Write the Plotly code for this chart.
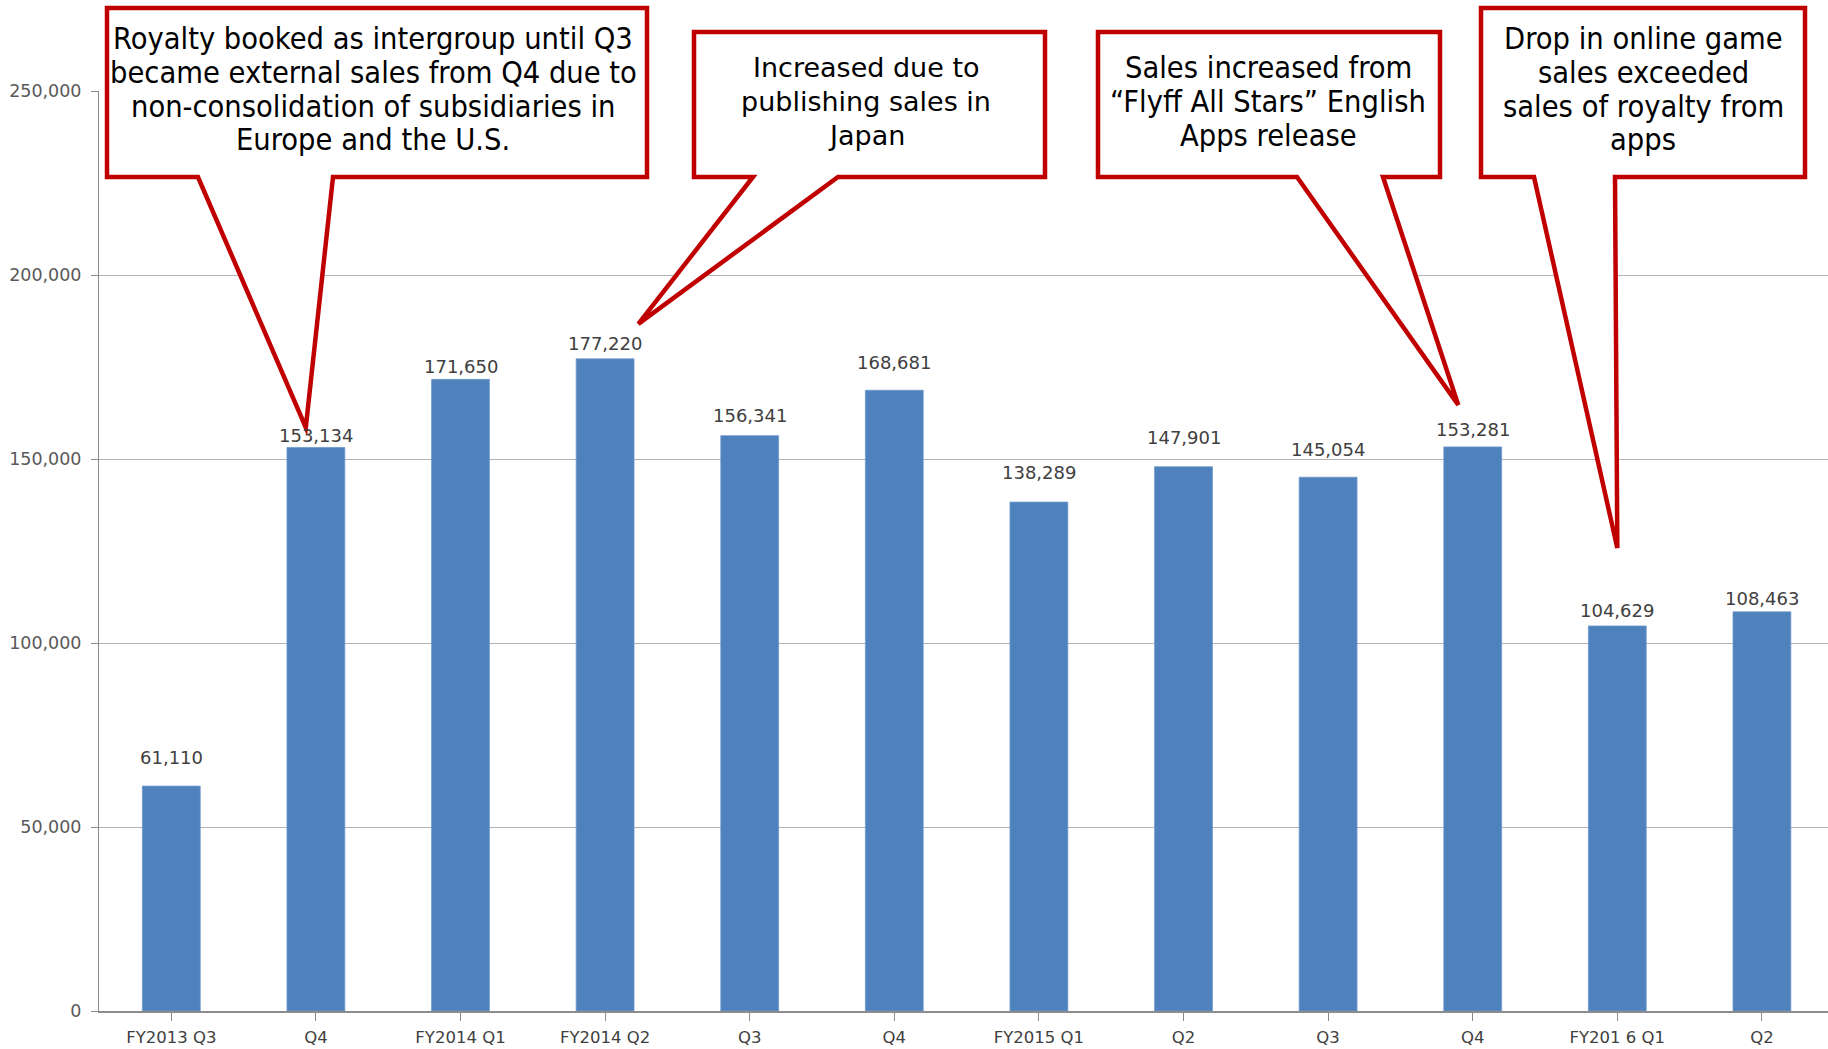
import plotly.graph_objects as go

# Quarterly sales
quarters = ["FY2013 Q3", "Q4", "FY2014 Q1", "FY2014 Q2", "Q3", "Q4",
            "FY2015 Q1", "Q2", "Q3", "Q4", "FY201 6 Q1", "Q2"]
sales = [61110, 153134, 171650, 177220, 156341, 168681,
         138289, 147901, 145054, 153281, 104629, 108463]
y_ticks = [0, 50000, 100000, 150000, 200000, 250000]

# Callout notes: text lines, the bar each one points at
note_lines = [
    ["Royalty booked as intergroup until Q3",
     "became external sales from Q4 due to",
     "non-consolidation of subsidiaries in",
     "Europe and the U.S."],
    ["Increased due to", "publishing sales in", "Japan"],
    ["Sales increased from", "\u201cFlyff All Stars\u201d English", "Apps release"],
    ["Drop in online game", "sales exceeded", "sales of royalty from", "apps"],
]
note_bar = [1, 3, 9, 10]

# ---- layout geometry (pixels) ----
FIG_W, FIG_H = 1828, 1049
L, T, R, B = 99, 91, 0, 38
W = FIG_W - L - R
H = FIG_H - T - B
X0, X1 = -0.5, 11.457
Y0, Y1 = 0, 250000

# distance of each value label's centre above its bar top (px)
label_lift = [29, 12, 13, 15, 20, 28, 30, 29, 28, 17, 15, 13]


def px_of_x(v):
    return L + (v - X0) / (X1 - X0) * W


def px_of_y(v):
    return T + H - (v - Y0) / (Y1 - Y0) * H


def paper_x(px):
    return (px - L) / W


def paper_y(py):
    return (T + H - py) / H


# box: left, top, right, bottom, tail base left, tail base right
boxes = [
    (107, 8, 647, 177, 198, 333),
    (694, 32, 1045, 177, 753, 838),
    (1098, 32, 1440, 177, 1297, 1383),
    (1481, 8, 1805, 177, 1534, 1615),
]
# tip offset from the bar: (category units, pixels above bar top)
tip_offset = [(-0.07, 20), (0.23, 35), (-0.10, 42), (0.0, 78)]
text_cx = [373, 866, 1268, 1643]
text_y0 = [38.5, 67.5, 67.5, 38.5]
line_gap = 33.8
condensed = dict(family="DejaVu Sans Condensed, Liberation Sans", size=30.5, color="#000000")
note_font = [
    condensed,
    dict(family="DejaVu Sans, Verdana", size=27, color="#000000"),
    condensed,
    condensed,
]

x_idx = list(range(len(quarters)))

fig = go.Figure()
fig.add_trace(go.Bar(
    x=x_idx,
    y=sales,
    width=0.4,
    marker=dict(color="#4F81BD", line=dict(color="#6E98CC", width=0.8)),
    hoverinfo="skip",
))

annotations = []
# value labels above the bars
for i, v in enumerate(sales):
    annotations.append(dict(
        xref="x", yref="y", x=x_idx[i], y=v, yshift=label_lift[i],
        text=f"{v:,}", showarrow=False, xanchor="center", yanchor="middle",
        font=dict(family="DejaVu Sans, Verdana", size=18, color="#404040"),
    ))

shapes = []
for k, (bl, bt, br, bb, tl, tr) in enumerate(boxes):
    i = note_bar[k]
    dx, dpx = tip_offset[k]
    tx = px_of_x(i + dx)
    ty = px_of_y(sales[i]) - dpx
    pts = [(bl, bt), (br, bt), (br, bb), (tr, bb), (tx, ty), (tl, bb), (bl, bb)]
    path = "M " + " L ".join(f"{paper_x(a):.5f},{paper_y(b):.5f}" for a, b in pts) + " Z"
    shapes.append(dict(type="path", xref="paper", yref="paper", path=path,
                       fillcolor="#FFFFFF", line=dict(color="#C00000", width=4.5),
                       layer="above"))
    for j, line in enumerate(note_lines[k]):
        annotations.append(dict(
            xref="paper", yref="paper",
            x=paper_x(text_cx[k]), y=paper_y(text_y0[k] + j * line_gap),
            text=line, showarrow=False, xanchor="center", yanchor="middle",
            font=note_font[k],
        ))

fig.update_layout(
    width=FIG_W, height=FIG_H,
    margin=dict(l=L, r=R, t=T, b=B, autoexpand=False),
    paper_bgcolor="#FFFFFF", plot_bgcolor="#FFFFFF",
    showlegend=False,
    shapes=shapes,
    annotations=annotations,
    bargap=0.6,
)
fig.update_xaxes(
    range=[X0, X1],
    tickmode="array", tickvals=x_idx, ticktext=quarters,
    tickson="boundaries", ticks="outside", ticklen=8, tickcolor="#8C8C8C",
    showline=True, linecolor="#8C8C8C", linewidth=1.5,
    showgrid=False, zeroline=False,
    tickfont=dict(family="DejaVu Sans, Verdana", size=16.5, color="#404040"),
    ticklabelstandoff=2,
)
fig.update_yaxes(
    range=[Y0, Y1],
    tickmode="array", tickvals=y_ticks, tickformat=",",
    ticks="outside", ticklen=7, tickcolor="#8C8C8C",
    showline=True, linecolor="#8C8C8C", linewidth=1,
    showgrid=True, gridcolor="#B3B3B3", gridwidth=1,
    zeroline=False,
    tickfont=dict(family="DejaVu Sans, Verdana", size=17.5, color="#595959"),
    ticklabelstandoff=6,
)

fig.write_html("out.html")
